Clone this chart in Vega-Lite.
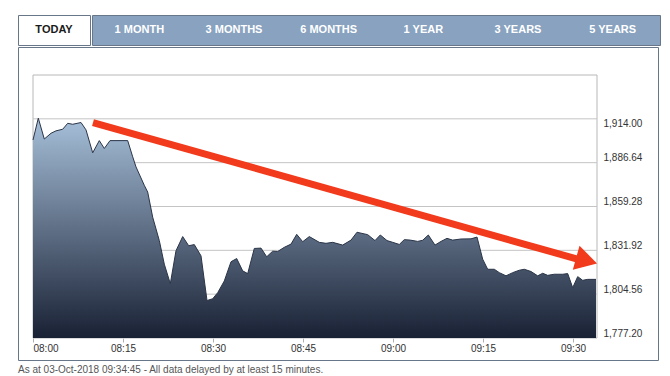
{
  "$schema": "https://vega.github.io/schema/vega-lite/v6.json",
  "padding": {"left": 17, "top": 14, "right": 13, "bottom": 0},
  "background": "white",
  "config": {"font": "Liberation Sans", "view": {"stroke": null}},
  "datasets": {
    "tabs": [
      {"tab": "TODAY", "active": true},
      {"tab": "1 MONTH", "active": false},
      {"tab": "3 MONTHS", "active": false},
      {"tab": "6 MONTHS", "active": false},
      {"tab": "1 YEAR", "active": false},
      {"tab": "3 YEARS", "active": false},
      {"tab": "5 YEARS", "active": false}
    ],
    "grid": [{"g": 1804.56}, {"g": 1831.92}, {"g": 1859.28}, {"g": 1886.64}, {"g": 1914.0}],
    "arrow": [
      {"t": "2018-10-03T08:10:00", "v": 1911.7},
      {"t": "2018-10-03T09:31:10", "v": 1826.0}
    ],
    "head": [{"t": "2018-10-03T09:32:16", "v": 1825.5}],
    "prices": [
      {"t": "2018-10-03T08:00:00", "v": 1900.8},
      {"t": "2018-10-03T08:00:53", "v": 1914.4},
      {"t": "2018-10-03T08:01:53", "v": 1901.4},
      {"t": "2018-10-03T08:03:00", "v": 1905.0},
      {"t": "2018-10-03T08:03:50", "v": 1906.5},
      {"t": "2018-10-03T08:04:57", "v": 1907.5},
      {"t": "2018-10-03T08:05:47", "v": 1911.2},
      {"t": "2018-10-03T08:06:37", "v": 1910.6},
      {"t": "2018-10-03T08:08:00", "v": 1911.7},
      {"t": "2018-10-03T08:08:50", "v": 1907.1},
      {"t": "2018-10-03T08:09:57", "v": 1892.8},
      {"t": "2018-10-03T08:11:03", "v": 1900.4},
      {"t": "2018-10-03T08:11:53", "v": 1895.5},
      {"t": "2018-10-03T08:12:50", "v": 1900.4},
      {"t": "2018-10-03T08:15:47", "v": 1900.4},
      {"t": "2018-10-03T08:16:37", "v": 1890.3},
      {"t": "2018-10-03T08:17:10", "v": 1884.0},
      {"t": "2018-10-03T08:18:33", "v": 1872.5},
      {"t": "2018-10-03T08:19:07", "v": 1868.3},
      {"t": "2018-10-03T08:19:57", "v": 1852.6},
      {"t": "2018-10-03T08:21:03", "v": 1838.0},
      {"t": "2018-10-03T08:21:53", "v": 1823.3},
      {"t": "2018-10-03T08:22:53", "v": 1811.1},
      {"t": "2018-10-03T08:23:50", "v": 1831.7},
      {"t": "2018-10-03T08:24:57", "v": 1840.5},
      {"t": "2018-10-03T08:25:57", "v": 1834.8},
      {"t": "2018-10-03T08:26:53", "v": 1835.5},
      {"t": "2018-10-03T08:28:00", "v": 1828.5},
      {"t": "2018-10-03T08:29:00", "v": 1800.6},
      {"t": "2018-10-03T08:29:57", "v": 1801.7},
      {"t": "2018-10-03T08:30:47", "v": 1805.5},
      {"t": "2018-10-03T08:31:53", "v": 1812.8},
      {"t": "2018-10-03T08:33:00", "v": 1824.8},
      {"t": "2018-10-03T08:33:57", "v": 1826.8},
      {"t": "2018-10-03T08:34:57", "v": 1819.1},
      {"t": "2018-10-03T08:35:47", "v": 1817.4},
      {"t": "2018-10-03T08:36:53", "v": 1833.1},
      {"t": "2018-10-03T08:38:00", "v": 1833.3},
      {"t": "2018-10-03T08:38:57", "v": 1827.9},
      {"t": "2018-10-03T08:39:57", "v": 1831.4},
      {"t": "2018-10-03T08:40:47", "v": 1831.2},
      {"t": "2018-10-03T08:41:53", "v": 1833.8},
      {"t": "2018-10-03T08:43:00", "v": 1835.8},
      {"t": "2018-10-03T08:43:57", "v": 1841.9},
      {"t": "2018-10-03T08:44:57", "v": 1837.3},
      {"t": "2018-10-03T08:46:03", "v": 1840.5},
      {"t": "2018-10-03T08:47:43", "v": 1836.9},
      {"t": "2018-10-03T08:48:50", "v": 1836.3},
      {"t": "2018-10-03T08:49:57", "v": 1836.9},
      {"t": "2018-10-03T08:51:37", "v": 1835.2},
      {"t": "2018-10-03T08:53:00", "v": 1838.3},
      {"t": "2018-10-03T08:54:00", "v": 1843.2},
      {"t": "2018-10-03T08:55:47", "v": 1841.7},
      {"t": "2018-10-03T08:57:00", "v": 1838.0},
      {"t": "2018-10-03T08:57:53", "v": 1841.5},
      {"t": "2018-10-03T08:59:00", "v": 1838.0},
      {"t": "2018-10-03T08:59:57", "v": 1836.9},
      {"t": "2018-10-03T09:01:03", "v": 1835.6},
      {"t": "2018-10-03T09:01:53", "v": 1838.6},
      {"t": "2018-10-03T09:02:53", "v": 1838.3},
      {"t": "2018-10-03T09:04:07", "v": 1837.5},
      {"t": "2018-10-03T09:04:57", "v": 1838.2},
      {"t": "2018-10-03T09:05:53", "v": 1841.5},
      {"t": "2018-10-03T09:07:00", "v": 1835.2},
      {"t": "2018-10-03T09:08:00", "v": 1837.5},
      {"t": "2018-10-03T09:09:00", "v": 1839.4},
      {"t": "2018-10-03T09:09:57", "v": 1838.3},
      {"t": "2018-10-03T09:11:20", "v": 1839.0},
      {"t": "2018-10-03T09:13:00", "v": 1839.1},
      {"t": "2018-10-03T09:14:00", "v": 1840.2},
      {"t": "2018-10-03T09:14:57", "v": 1826.4},
      {"t": "2018-10-03T09:15:47", "v": 1820.1},
      {"t": "2018-10-03T09:16:53", "v": 1820.1},
      {"t": "2018-10-03T09:17:43", "v": 1818.0},
      {"t": "2018-10-03T09:18:50", "v": 1816.0},
      {"t": "2018-10-03T09:19:57", "v": 1818.0},
      {"t": "2018-10-03T09:21:03", "v": 1819.5},
      {"t": "2018-10-03T09:21:53", "v": 1820.1},
      {"t": "2018-10-03T09:23:00", "v": 1818.7},
      {"t": "2018-10-03T09:24:07", "v": 1816.0},
      {"t": "2018-10-03T09:24:57", "v": 1817.6},
      {"t": "2018-10-03T09:25:47", "v": 1816.3},
      {"t": "2018-10-03T09:26:53", "v": 1817.0},
      {"t": "2018-10-03T09:28:17", "v": 1817.0},
      {"t": "2018-10-03T09:29:07", "v": 1817.4},
      {"t": "2018-10-03T09:29:57", "v": 1808.6},
      {"t": "2018-10-03T09:30:47", "v": 1815.5},
      {"t": "2018-10-03T09:31:37", "v": 1813.2},
      {"t": "2018-10-03T09:32:27", "v": 1813.8},
      {"t": "2018-10-03T09:33:50", "v": 1813.8}
    ]
  },
  "spacing": 0,
  "vconcat": [
    {
      "spacing": 0,
      "hconcat": [
        {
          "width": 72,
          "height": 30,
          "view": {"fill": "white", "stroke": "#677789"},
          "data": {"name": "tabs"},
          "transform": [{"filter": "datum.active"}],
          "mark": {"type": "text", "fontWeight": "bold", "fontSize": 11, "color": "#1a1a1a", "baseline": "middle"},
          "encoding": {"text": {"field": "tab"}}
        },
        {
          "width": 568,
          "height": 30,
          "view": {"fill": "#88a2bf", "stroke": "#677789"},
          "data": {"name": "tabs"},
          "transform": [{"filter": "!datum.active"}],
          "mark": {"type": "text", "fontWeight": "bold", "fontSize": 11, "color": "white", "baseline": "middle"},
          "encoding": {
            "x": {"field": "tab", "type": "nominal", "sort": null, "axis": null, "scale": {"paddingInner": 0, "paddingOuter": 0}},
            "text": {"field": "tab"}
          }
        }
      ]
    },
    {
      "width": 640,
      "height": 313,
      "view": {"fill": "white", "stroke": "#677789"},
      "title": {
        "text": "As at 03-Oct-2018 09:34:45 -  All data delayed by at least 15 minutes.",
        "orient": "bottom",
        "anchor": "start",
        "fontSize": 10,
        "fontWeight": "normal",
        "color": "#555555",
        "offset": 5
      },
      "layer": [
        {
          "data": {"values": [{}]},
          "mark": {"type": "rect", "fillOpacity": 0, "stroke": "#b8b8b8", "strokeWidth": 1},
          "encoding": {
            "x": {"datum": {"year": 2018, "month": 10, "date": 3, "hours": 8, "minutes": 0}, "type": "temporal"},
            "x2": {"datum": {"year": 2018, "month": 10, "date": 3, "hours": 9, "minutes": 34}},
            "y": {"datum": 1777.2, "type": "quantitative"},
            "y2": {"datum": 1941.36}
          }
        },
        {
          "data": {"name": "grid"},
          "mark": {"type": "rule", "color": "#c4c4c4", "strokeWidth": 1},
          "encoding": {
            "y": {"field": "g", "type": "quantitative"},
            "x": {"datum": {"year": 2018, "month": 10, "date": 3, "hours": 8, "minutes": 0}, "type": "temporal"},
            "x2": {"datum": {"year": 2018, "month": 10, "date": 3, "hours": 9, "minutes": 34}}
          }
        },
        {
          "data": {"name": "prices"},
          "mark": {
            "type": "area",
            "opacity": 1,
            "fillOpacity": 1,
            "color": {
              "gradient": "linear",
              "x1": 0, "y1": 0, "x2": 0, "y2": 1,
              "stops": [
                {"offset": 0, "color": "#a6bfd9"},
                {"offset": 1, "color": "#192134"}
              ]
            },
            "line": {"color": "#2b3548", "strokeWidth": 1, "opacity": 1}
          },
          "encoding": {
            "x": {
              "field": "t",
              "type": "temporal",
              "scale": {
                "domain": [
                  {"year": 2018, "month": 10, "date": 3, "hours": 8, "minutes": 0},
                  {"year": 2018, "month": 10, "date": 3, "hours": 9, "minutes": 34}
                ],
                "range": [15, 579],
                "nice": false
              },
              "axis": {
                "orient": "bottom",
                "offset": -22,
                "title": null,
                "values": [
                  {"year": 2018, "month": 10, "date": 3, "hours": 8, "minutes": 0},
                  {"year": 2018, "month": 10, "date": 3, "hours": 8, "minutes": 15},
                  {"year": 2018, "month": 10, "date": 3, "hours": 8, "minutes": 30},
                  {"year": 2018, "month": 10, "date": 3, "hours": 8, "minutes": 45},
                  {"year": 2018, "month": 10, "date": 3, "hours": 9, "minutes": 0},
                  {"year": 2018, "month": 10, "date": 3, "hours": 9, "minutes": 15},
                  {"year": 2018, "month": 10, "date": 3, "hours": 9, "minutes": 30}
                ],
                "format": "%H:%M",
                "labelFlush": true,
                "labelFontSize": 10,
                "labelColor": "#333333",
                "tickColor": "#b0b0b0",
                "tickSize": 4,
                "labelPadding": 1,
                "domain": false,
                "grid": false
              }
            },
            "y": {
              "field": "v",
              "type": "quantitative",
              "scale": {"domain": [1777.2, 1941.36], "range": [291, 28], "zero": false, "nice": false},
              "axis": {
                "orient": "right",
                "offset": -61,
                "title": null,
                "values": [1777.2, 1804.56, 1831.92, 1859.28, 1886.64, 1914.0],
                "format": ",.2f",
                "grid": false,
                "ticks": false,
                "tickSize": 0,
                "domain": false,
                "labelPadding": 6,
                "labelFontSize": 10,
                "labelColor": "#333333",
                "labelOverlap": false,
                "labelBaseline": {"condition": {"test": "datum.value == 1914", "value": "top"}, "value": "bottom"}
              }
            },
            "y2": {"datum": 1777.2}
          }
        },
        {
          "data": {"name": "arrow"},
          "mark": {"type": "line", "color": "#f23a1c", "strokeWidth": 7, "strokeCap": "butt", "opacity": 1},
          "encoding": {
            "x": {"field": "t", "type": "temporal"},
            "y": {"field": "v", "type": "quantitative"}
          }
        },
        {
          "data": {"name": "head"},
          "mark": {"type": "point", "shape": "triangle-right", "filled": true, "size": 625, "angle": 15.6, "color": "#f23a1c", "opacity": 1},
          "encoding": {
            "x": {"field": "t", "type": "temporal"},
            "y": {"field": "v", "type": "quantitative"}
          }
        }
      ]
    }
  ]
}
